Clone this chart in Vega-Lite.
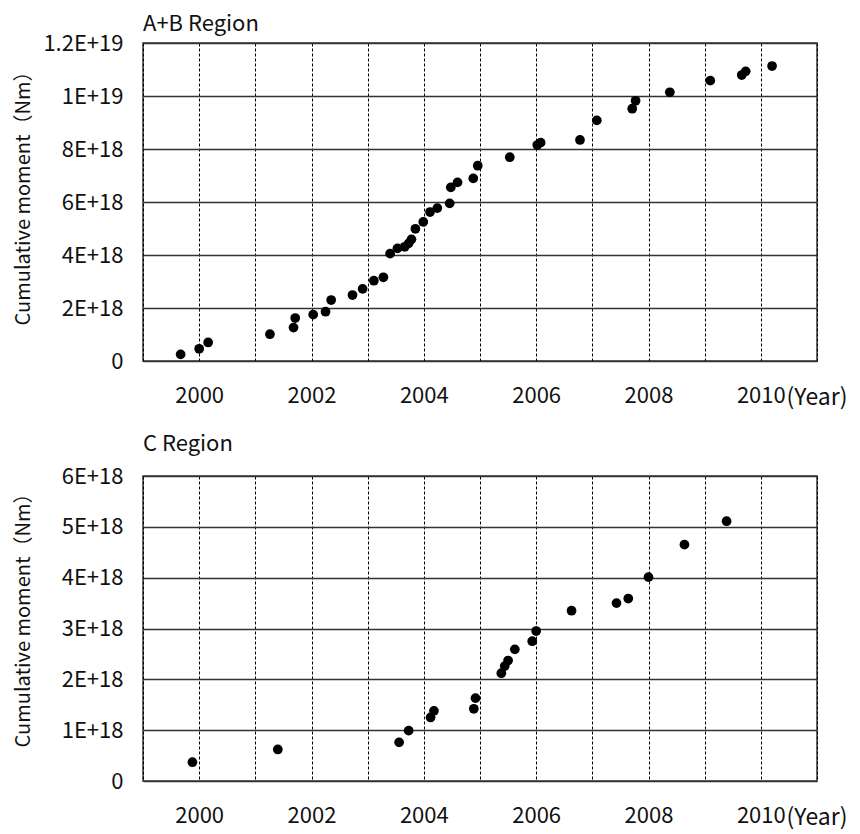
{
  "$schema": "https://vega.github.io/schema/vega-lite/v6.json",
  "padding": {"left": 12, "top": 12, "right": 2, "bottom": 2},
  "spacing": 22,
  "background": "white",
  "config": {
    "font": "Noto Sans CJK JP",
    "view": {"stroke": "#333333", "strokeWidth": 1.5},
    "title": {"anchor": "start", "frame": "group", "fontSize": 22, "fontWeight": "normal", "color": "#111111"},
    "axis": {
      "domain": false,
      "ticks": false,
      "tickSize": 0,
      "labelColor": "#111111",
      "titleColor": "#111111",
      "titleFontWeight": "normal",
      "labelOverlap": false,
      "labelFlush": false,
      "labelBound": false
    },
    "axisX": {
      "labelFontSize": 22,
      "labelPadding": 24,
      "grid": true,
      "gridColor": "#000000",
      "gridDash": [3, 2],
      "gridWidth": 1,
      "titleFontSize": 23,
      "titleAlign": "left",
      "titleBaseline": "alphabetic",
      "titleX": 643,
      "titleY": 43
    },
    "axisY": {
      "labelFontSize": 22,
      "labelPadding": 20,
      "grid": true,
      "gridColor": "#333333",
      "gridWidth": 1.3,
      "titleFontSize": 20,
      "titleAngle": -90,
      "titleBaseline": "bottom",
      "titleX": -110
    }
  },
  "datasets": {
    "ab": [
      {"year": 1999.67, "moment": 2.5e17},
      {"year": 2000.0, "moment": 4.6e17},
      {"year": 2000.16, "moment": 7.0e17},
      {"year": 2001.26, "moment": 1.01e18},
      {"year": 2001.68, "moment": 1.26e18},
      {"year": 2001.71, "moment": 1.62e18},
      {"year": 2002.03, "moment": 1.75e18},
      {"year": 2002.25, "moment": 1.86e18},
      {"year": 2002.35, "moment": 2.30e18},
      {"year": 2002.73, "moment": 2.49e18},
      {"year": 2002.91, "moment": 2.72e18},
      {"year": 2003.11, "moment": 3.03e18},
      {"year": 2003.28, "moment": 3.16e18},
      {"year": 2003.40, "moment": 4.05e18},
      {"year": 2003.53, "moment": 4.25e18},
      {"year": 2003.66, "moment": 4.31e18},
      {"year": 2003.73, "moment": 4.44e18},
      {"year": 2003.78, "moment": 4.59e18},
      {"year": 2003.85, "moment": 4.99e18},
      {"year": 2003.99, "moment": 5.25e18},
      {"year": 2004.11, "moment": 5.62e18},
      {"year": 2004.24, "moment": 5.77e18},
      {"year": 2004.46, "moment": 5.95e18},
      {"year": 2004.48, "moment": 6.55e18},
      {"year": 2004.60, "moment": 6.74e18},
      {"year": 2004.88, "moment": 6.89e18},
      {"year": 2004.96, "moment": 7.37e18},
      {"year": 2005.53, "moment": 7.69e18},
      {"year": 2006.02, "moment": 8.15e18},
      {"year": 2006.08, "moment": 8.24e18},
      {"year": 2006.78, "moment": 8.34e18},
      {"year": 2007.08, "moment": 9.08e18},
      {"year": 2007.71, "moment": 9.52e18},
      {"year": 2007.77, "moment": 9.82e18},
      {"year": 2008.38, "moment": 1.014e19},
      {"year": 2009.10, "moment": 1.058e19},
      {"year": 2009.66, "moment": 1.079e19},
      {"year": 2009.73, "moment": 1.093e19},
      {"year": 2010.20, "moment": 1.113e19}
    ],
    "c": [
      {"year": 1999.88, "moment": 3.7e17},
      {"year": 2001.40, "moment": 6.2e17},
      {"year": 2003.56, "moment": 7.6e17},
      {"year": 2003.73, "moment": 9.9e17},
      {"year": 2004.12, "moment": 1.25e18},
      {"year": 2004.18, "moment": 1.38e18},
      {"year": 2004.89, "moment": 1.42e18},
      {"year": 2004.92, "moment": 1.63e18},
      {"year": 2005.38, "moment": 2.12e18},
      {"year": 2005.44, "moment": 2.26e18},
      {"year": 2005.50, "moment": 2.37e18},
      {"year": 2005.62, "moment": 2.59e18},
      {"year": 2005.93, "moment": 2.75e18},
      {"year": 2006.00, "moment": 2.95e18},
      {"year": 2006.63, "moment": 3.35e18},
      {"year": 2007.43, "moment": 3.50e18},
      {"year": 2007.64, "moment": 3.59e18},
      {"year": 2008.00, "moment": 4.01e18},
      {"year": 2008.64, "moment": 4.65e18},
      {"year": 2009.39, "moment": 5.11e18}
    ]
  },
  "vconcat": [
    {
      "width": 674,
      "height": 318,
      "title": {"text": "A+B Region", "offset": -4},
      "data": {"name": "ab"},
      "mark": {"type": "point", "filled": true, "shape": "circle", "size": 95, "color": "#000000", "opacity": 1},
      "encoding": {
        "x": {
          "field": "year", "type": "quantitative",
          "scale": {"domain": [1999, 2011], "nice": false, "zero": false},
          "axis": {
            "values": [1999, 2000, 2001, 2002, 2003, 2004, 2005, 2006, 2007, 2008, 2009, 2010, 2011],
            "labelExpr": "datum.value % 2 == 0 ? '' + datum.value : ''",
            "title": "(Year)"
          }
        },
        "y": {
          "field": "moment", "type": "quantitative",
          "scale": {"domain": [0, 1.2e19], "nice": false},
          "axis": {
            "values": [0, 2e18, 4e18, 6e18, 8e18, 1e19, 1.2e19],
            "labelExpr": "datum.value == 0 ? '0' : upper(format(datum.value, '~e'))",
            "title": "Cumulative moment（Nm）",
            "titleY": 150
          }
        }
      }
    },
    {
      "width": 674,
      "height": 305,
      "title": {"text": "C Region", "offset": 9},
      "data": {"name": "c"},
      "mark": {"type": "point", "filled": true, "shape": "circle", "size": 95, "color": "#000000", "opacity": 1},
      "encoding": {
        "x": {
          "field": "year", "type": "quantitative",
          "scale": {"domain": [1999, 2011], "nice": false, "zero": false},
          "axis": {
            "values": [1999, 2000, 2001, 2002, 2003, 2004, 2005, 2006, 2007, 2008, 2009, 2010, 2011],
            "labelExpr": "datum.value % 2 == 0 ? '' + datum.value : ''",
            "title": "(Year)"
          }
        },
        "y": {
          "field": "moment", "type": "quantitative",
          "scale": {"domain": [0, 6e18], "nice": false},
          "axis": {
            "values": [0, 1e18, 2e18, 3e18, 4e18, 5e18, 6e18],
            "labelExpr": "datum.value == 0 ? '0' : upper(format(datum.value, '~e'))",
            "title": "Cumulative moment（Nm）",
            "titleY": 139
          }
        }
      }
    }
  ]
}
